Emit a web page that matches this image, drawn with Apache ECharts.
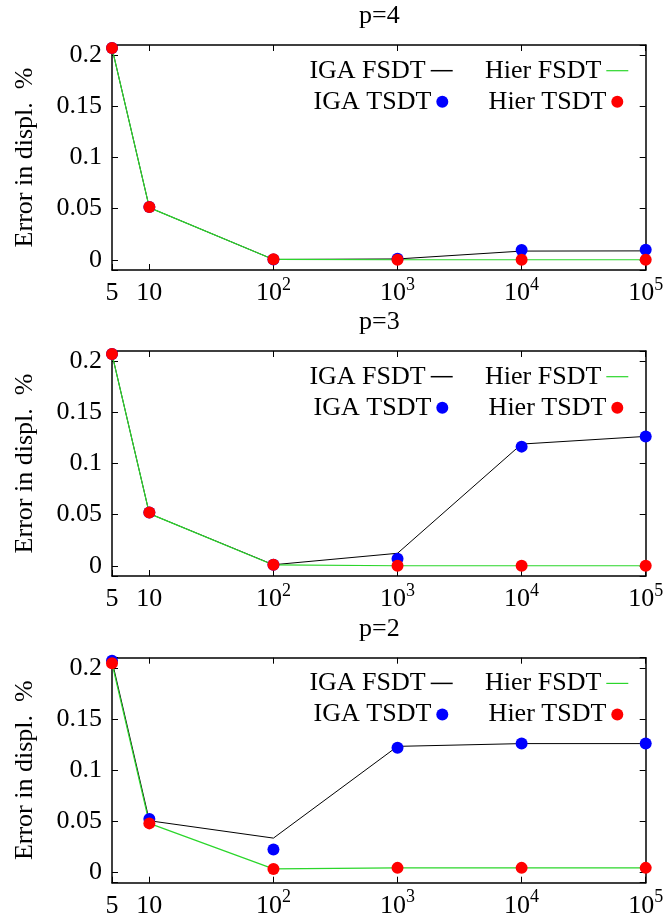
<!DOCTYPE html>
<html><head><meta charset="utf-8">
<script src="https://cdn.jsdelivr.net/npm/echarts@6/dist/echarts.min.js"></script>
<style>html,body{margin:0;padding:0;background:#fff}#c{width:668px;height:920px}</style>
</head><body><div id="c"></div>
<script>
// ---- data ----
const xValues = [5, 10, 100, 1000, 10000, 100000];
const xTickValues = [5, 10, 100, 1000, 10000, 100000];
const xTickBase = ['5', '10', '10', '10', '10', '10'];
const xTickSup = ['', '', '2', '3', '4', '5'];
const yTickValues = [0, 0.05, 0.1, 0.15, 0.2];
const yTickLabels = ['0', '0.05', '0.1', '0.15', '0.2'];
const panelTitles = ['p=4', 'p=3', 'p=2'];
const seriesNames = ['IGA FSDT', 'Hier FSDT', 'IGA TSDT', 'Hier TSDT'];
const yAxisTitle = 'Error in displ.  %';

// p=4
const p4IgaFsdt  = [0.207, 0.051, 0.0003, 0.0008, 0.0085, 0.0087];
const p4HierFsdt = [0.207, 0.051, 0.0003, 0, 0, 0];
const p4IgaTsdt  = [0.207, 0.0515, 0.0003, 0.001, 0.0095, 0.0097];
const p4HierTsdt = [0.207, 0.0515, 0.0005, 0, 0, 0];
// p=3
const p3IgaFsdt  = [0.207, 0.051, 0.001, 0.0122, 0.119, 0.1265];
const p3HierFsdt = [0.207, 0.051, 0.0008, 0, 0, 0];
const p3IgaTsdt  = [0.207, 0.052, 0.001, 0.0069, 0.1165, 0.1265];
const p3HierTsdt = [0.207, 0.052, 0.001, 0, 0, 0];
// p=2
const p2IgaFsdt  = [0.207, 0.0506, 0.0336, 0.1233, 0.126, 0.126];
const p2HierFsdt = [0.2045, 0.048, 0.0035, 0.0045, 0.0045, 0.0045];
const p2IgaTsdt  = [0.207, 0.0523, 0.0225, 0.122, 0.126, 0.126];
const p2HierTsdt = [0.2045, 0.048, 0.0035, 0.0045, 0.0045, 0.0045];

const panels = [
  [p4IgaFsdt, p4HierFsdt, p4IgaTsdt, p4HierTsdt],
  [p3IgaFsdt, p3HierFsdt, p3IgaTsdt, p3HierTsdt],
  [p2IgaFsdt, p2HierFsdt, p2IgaTsdt, p2HierTsdt]
];

// ---- style / layout ----
const FONT = 'Liberation Serif';
const FS = 26;
const colors = ['#000000', '#2bd62b', '#0000ff', '#ff0000'];
const gridTops = [45, 351, 657.7];
const gridH = 225;
const gridLeft = 112;
const gridRight = 22.3;

function zip(ys) { return xValues.map((x, i) => [x, ys[i]]); }

const grids = [], xAxes = [], yAxes = [], series = [], legends = [], titles = [];

const xAxisLine = { show: true, onZero: false, lineStyle: { color: '#000', width: 1.5 } };
const yAxisLine = { show: true, onZero: false, lineStyle: { color: '#000', width: 1.5 } };
const tickStyle = { show: true, inside: true, length: 6, lineStyle: { color: '#000', width: 1 } };

function xLabel(v) {
  const r = Math.round(v);
  const idx = xTickValues.indexOf(r);
  if (idx < 0) return '';
  if (!xTickSup[idx]) return '{b|' + xTickBase[idx] + '}';
  return '{b|' + xTickBase[idx] + '}{s|' + xTickSup[idx] + '}';
}
function yLabel(v) {
  for (let i = 0; i < yTickValues.length; i++) {
    if (Math.abs(v - yTickValues[i]) < 1e-9) return yTickLabels[i];
  }
  return '';
}

panels.forEach((pd, i) => {
  const top = gridTops[i];
  grids.push({ left: gridLeft, right: gridRight, top: top, height: gridH, containLabel: false });
  // bottom x
  xAxes.push({
    type: 'log', logBase: 10, min: 5, max: 100000, gridIndex: i, position: 'bottom',
    axisLine: xAxisLine, axisTick: tickStyle, splitLine: { show: false },
    axisLabel: {
      margin: 6, formatter: xLabel, color: '#000',
      rich: {
        b: { fontFamily: FONT, fontSize: FS, color: '#000', verticalAlign: 'bottom', lineHeight: 30 },
        s: { fontFamily: FONT, fontSize: 18, color: '#000', verticalAlign: 'top', lineHeight: 18 }
      }
    }
  });
  // top x (mirror)
  xAxes.push({
    type: 'log', logBase: 10, min: 5, max: 100000, gridIndex: i, position: 'top',
    axisLine: xAxisLine, axisTick: tickStyle, splitLine: { show: false },
    axisLabel: { show: false }
  });
  // left y
  yAxes.push({
    type: 'value', min: -0.01, max: 0.21, gridIndex: i, position: 'left',
    axisLine: yAxisLine, axisTick: tickStyle, splitLine: { show: false },
    axisLabel: { formatter: yLabel, fontFamily: FONT, fontSize: FS, color: '#000', margin: 10 },
    name: yAxisTitle, nameLocation: 'middle', nameGap: 74,
    nameTextStyle: { fontFamily: FONT, fontSize: FS, color: '#000' }
  });
  // right y (mirror)
  yAxes.push({
    type: 'value', min: -0.01, max: 0.21, gridIndex: i, position: 'right',
    axisLine: yAxisLine, axisTick: tickStyle, splitLine: { show: false },
    axisLabel: { show: false }
  });

  const xi = 2 * i, yi = 2 * i;
  series.push({
    type: 'line', name: seriesNames[0], xAxisIndex: xi, yAxisIndex: yi,
    data: zip(pd[0]), symbol: 'none', color: colors[0],
    lineStyle: { color: colors[0], width: 1 }, z: 2, animation: false
  });
  series.push({
    type: 'line', name: seriesNames[1], xAxisIndex: xi, yAxisIndex: yi,
    data: zip(pd[1]), symbol: 'none', color: colors[1],
    lineStyle: { color: colors[1], width: 1.2 }, z: 3, animation: false
  });
  series.push({
    type: 'scatter', name: seriesNames[2], xAxisIndex: xi, yAxisIndex: yi,
    data: zip(pd[2]), symbol: 'circle', symbolSize: 12, color: colors[2],
    itemStyle: { color: colors[2], opacity: 1 }, z: 4, clip: false, animation: false
  });
  series.push({
    type: 'scatter', name: seriesNames[3], xAxisIndex: xi, yAxisIndex: yi,
    data: zip(pd[3]), symbol: 'circle', symbolSize: 12, color: colors[3],
    itemStyle: { color: colors[3], opacity: 1 }, z: 5, clip: false, animation: false
  });

  const row1 = top + 25.7 - 13, row2 = top + 56.7 - 13;
  const legBase = {
    orient: 'horizontal', align: 'right', padding: 0, itemGap: 0,
    selectedMode: false,
    textStyle: { fontFamily: FONT, fontSize: FS, color: '#000', lineHeight: 26, padding: [0, 0, 0, 0] }
  };
  legends.push(Object.assign({}, legBase, {
    right: 215.3, top: row1, itemWidth: 22, itemHeight: 1.5,
    data: [{ name: seriesNames[0], icon: 'rect' }]
  }));
  legends.push(Object.assign({}, legBase, {
    right: 39.7, top: row1, itemWidth: 22, itemHeight: 1.2,
    data: [{ name: seriesNames[1], icon: 'rect' }]
  }));
  legends.push(Object.assign({}, legBase, {
    right: 219.7, top: row2, itemWidth: 12, itemHeight: 12,
    data: [{ name: seriesNames[2], icon: 'circle' }]
  }));
  legends.push(Object.assign({}, legBase, {
    right: 44.7, top: row2, itemWidth: 12, itemHeight: 12,
    data: [{ name: seriesNames[3], icon: 'circle' }]
  }));

  titles.push({
    text: panelTitles[i], left: 359, top: top - 42, padding: 0,
    textStyle: { fontFamily: FONT, fontSize: FS, fontWeight: 'normal', color: '#000' }
  });
});

const chart = echarts.init(document.getElementById('c'), null, { renderer: 'canvas' });
chart.setOption({
  animation: false,
  backgroundColor: '#fff',
  title: titles,
  grid: grids,
  xAxis: xAxes,
  yAxis: yAxes,
  legend: legends,
  series: series
});
</script>
</body></html>
